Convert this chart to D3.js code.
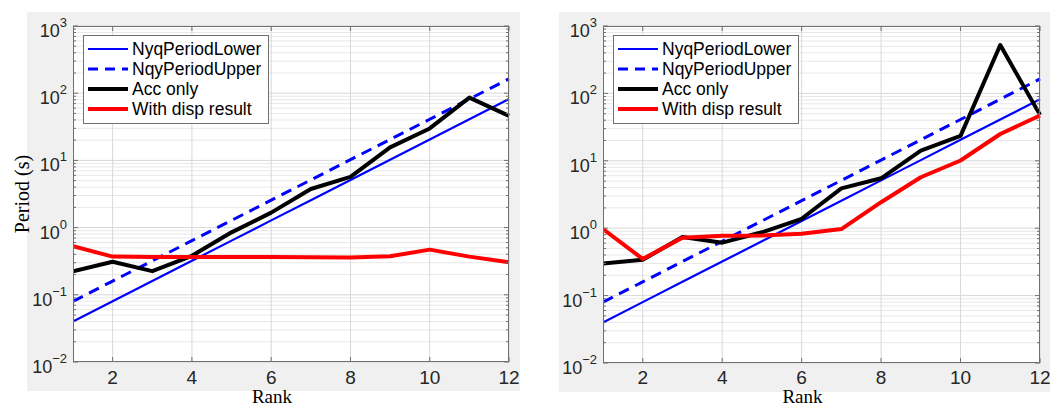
<!DOCTYPE html>
<html>
<head>
<meta charset="utf-8">
<script src="https://cdn.jsdelivr.net/npm/d3@7"></script>
<style>
  html, body { margin: 0; padding: 0; background: #fff; }
  svg { display: block; }
</style>
</head>
<body>
<svg id="chart" width="1050" height="407"></svg>
<script>
// Rank (x) and Nyquist period bounds shared by both panels
const ranks = [1, 2, 3, 4, 5, 6, 7, 8, 9, 10, 11, 12];
const nyqLower = [0.04, 0.08, 0.16, 0.32, 0.64, 1.28, 2.56, 5.12, 10.24, 20.48, 40.96, 81.92];
const nyqUpper = [0.08, 0.16, 0.32, 0.64, 1.28, 2.56, 5.12, 10.24, 20.48, 40.96, 81.92, 163.84];

// Left panel
const accOnlyLeft = [0.224, 0.31, 0.225, 0.38, 0.85, 1.67, 3.75, 5.7, 15.6, 29.9, 86, 46];
const withDispLeft = [0.53, 0.37, 0.366, 0.366, 0.365, 0.364, 0.363, 0.36, 0.375, 0.47, 0.37, 0.305];

// Right panel
const accOnlyRight = [0.30, 0.34, 0.74, 0.61, 0.87, 1.38, 3.9, 5.5, 14.2, 23.4, 522, 48];
const withDispRight = [0.97, 0.35, 0.72, 0.77, 0.78, 0.83, 0.97, 2.43, 5.7, 10.1, 25, 47];

// Axis ticks
const xTickValues = [2, 4, 6, 8, 10, 12];
const yTickExponents = [-2, -1, 0, 1, 2, 3];

const legendLabels = ["NyqPeriodLower", "NqyPeriodUpper", "Acc only", "With disp result"];

const seriesStyle = [
  { color: "#0000ff", width: 2.2, dash: null },
  { color: "#0000ff", width: 3, dash: "11,7" },
  { color: "#000000", width: 4, dash: null },
  { color: "#ff0000", width: 4, dash: null }
];

const svg = d3.select("#chart");

function drawPanel(p) {
  const g = svg.append("g");

  // figure background
  g.append("rect")
    .attr("x", p.bg[0]).attr("y", p.bg[1])
    .attr("width", p.bg[2]).attr("height", p.bg[3])
    .attr("fill", "#f0f0f0");

  const x = d3.scaleLinear().domain([1, 12]).range([p.left, p.right]);
  const y = d3.scaleLog().domain([1e-2, 1e3]).range([p.bottom, p.top]);

  // plot area
  g.append("rect")
    .attr("x", p.left).attr("y", p.top)
    .attr("width", p.right - p.left).attr("height", p.bottom - p.top)
    .attr("fill", "#ffffff");

  // minor grid
  const minorVals = [];
  for (let e = -2; e < 3; e++) {
    for (let m = 2; m <= 9; m++) minorVals.push(m * Math.pow(10, e));
  }
  g.append("g").selectAll("line").data(minorVals).join("line")
    .attr("x1", p.left).attr("x2", p.right)
    .attr("y1", d => y(d)).attr("y2", d => y(d))
    .attr("stroke", "#e8e8e8").attr("stroke-width", 1);

  // major grid
  g.append("g").selectAll("line").data(yTickExponents.map(e => Math.pow(10, e))).join("line")
    .attr("x1", p.left).attr("x2", p.right)
    .attr("y1", d => y(d)).attr("y2", d => y(d))
    .attr("stroke", "#d8d8d8").attr("stroke-width", 1);
  g.append("g").selectAll("line").data(xTickValues).join("line")
    .attr("x1", d => x(d)).attr("x2", d => x(d))
    .attr("y1", p.top).attr("y2", p.bottom)
    .attr("stroke", "#d8d8d8").attr("stroke-width", 1);

  // series
  const line = d3.line().x((d, i) => x(ranks[i])).y(d => y(d));
  const series = [nyqLower, nyqUpper, p.acc, p.disp];
  const clipId = "clip" + p.id;
  g.append("clipPath").attr("id", clipId).append("rect")
    .attr("x", p.left).attr("y", p.top - 2)
    .attr("width", p.right - p.left + 2).attr("height", p.bottom - p.top + 2);
  const lines = g.append("g").attr("clip-path", `url(#${clipId})`);
  series.forEach((s, i) => {
    lines.append("path")
      .datum(s)
      .attr("d", line)
      .attr("fill", "none")
      .attr("stroke", seriesStyle[i].color)
      .attr("stroke-width", seriesStyle[i].width)
      .attr("stroke-dasharray", seriesStyle[i].dash)
      .attr("stroke-linejoin", "round");
  });

  // axes box and inward ticks
  const axisColor = "#707070";
  const minorTickLen = 3, majorTickLen = 5;
  const tk = g.append("g").attr("stroke", axisColor).attr("stroke-width", 1);
  minorVals.forEach(v => {
    tk.append("line").attr("x1", p.left).attr("x2", p.left + minorTickLen).attr("y1", y(v)).attr("y2", y(v));
    tk.append("line").attr("x1", p.right).attr("x2", p.right - minorTickLen).attr("y1", y(v)).attr("y2", y(v));
  });
  yTickExponents.forEach(e => {
    const v = Math.pow(10, e);
    tk.append("line").attr("x1", p.left).attr("x2", p.left + majorTickLen).attr("y1", y(v)).attr("y2", y(v));
    tk.append("line").attr("x1", p.right).attr("x2", p.right - majorTickLen).attr("y1", y(v)).attr("y2", y(v));
  });
  xTickValues.forEach(v => {
    tk.append("line").attr("x1", x(v)).attr("x2", x(v)).attr("y1", p.bottom).attr("y2", p.bottom - majorTickLen);
    tk.append("line").attr("x1", x(v)).attr("x2", x(v)).attr("y1", p.top).attr("y2", p.top + majorTickLen);
  });
  g.append("rect")
    .attr("x", p.left + 0.5).attr("y", p.top + 0.5)
    .attr("width", p.right - p.left - 1).attr("height", p.bottom - p.top - 1)
    .attr("fill", "none").attr("stroke", axisColor).attr("stroke-width", 1);

  // x tick labels
  g.append("g").selectAll("text").data(xTickValues).join("text")
    .attr("x", d => x(d)).attr("y", 384)
    .attr("text-anchor", "middle")
    .attr("font-family", "Liberation Sans, Arial, sans-serif")
    .attr("font-size", 19).attr("fill", "#262626")
    .text(d => d);

  // y tick labels 10^n
  yTickExponents.forEach(e => {
    const t = g.append("text")
      .attr("x", p.left - 6).attr("y", y(Math.pow(10, e)) + 11)
      .attr("text-anchor", "end")
      .attr("font-family", "Liberation Sans, Arial, sans-serif")
      .attr("fill", "#262626");
    t.append("tspan").attr("font-size", 18).text("10");
    t.append("tspan").attr("font-size", 13).attr("dy", -10).text(e < 0 ? "\u2212" + (-e) : String(e));
  });

  // x axis label
  g.append("text")
    .attr("x", (p.left + p.right) / 2 - 19).attr("y", 403)
    .attr("text-anchor", "middle")
    .attr("font-family", "Liberation Serif, Times New Roman, serif")
    .attr("font-size", 19).attr("fill", "#000")
    .text("Rank");

  if (p.ylabel) {
    g.append("text")
      .attr("transform", `translate(29, ${(p.top + p.bottom) / 2}) rotate(-90)`)
      .attr("text-anchor", "middle")
      .attr("font-family", "Liberation Serif, Times New Roman, serif")
      .attr("font-size", 20).attr("fill", "#000")
      .text(p.ylabel);
  }

  // legend
  const lx = p.left + 10, ly = 35, lw = 185, lh = 88;
  const lg = g.append("g");
  lg.append("rect")
    .attr("x", lx + 0.5).attr("y", ly + 0.5).attr("width", lw).attr("height", lh)
    .attr("fill", "#ffffff").attr("stroke", "#707070").attr("stroke-width", 1);
  legendLabels.forEach((lab, i) => {
    const cy = ly + 14 + i * 20;
    lg.append("line")
      .attr("x1", lx + 5).attr("x2", lx + 45).attr("y1", cy).attr("y2", cy)
      .attr("stroke", seriesStyle[i].color)
      .attr("stroke-width", seriesStyle[i].width)
      .attr("stroke-dasharray", seriesStyle[i].dash ? "10,7" : null);
    lg.append("text")
      .attr("x", lx + 49).attr("y", cy + 6)
      .attr("font-family", "Liberation Sans, Arial, sans-serif")
      .attr("font-size", 17.5).attr("fill", "#000")
      .text(lab);
  });
}

drawPanel({ id: "L", bg: [27, 12, 493, 379], left: 73, right: 509, top: 26, bottom: 362,
            acc: accOnlyLeft, disp: withDispLeft, ylabel: "Period (s)" });
drawPanel({ id: "R", bg: [559, 12, 491, 380], left: 603, right: 1040, top: 26, bottom: 363,
            acc: accOnlyRight, disp: withDispRight, ylabel: null });
</script>
</body>
</html>
